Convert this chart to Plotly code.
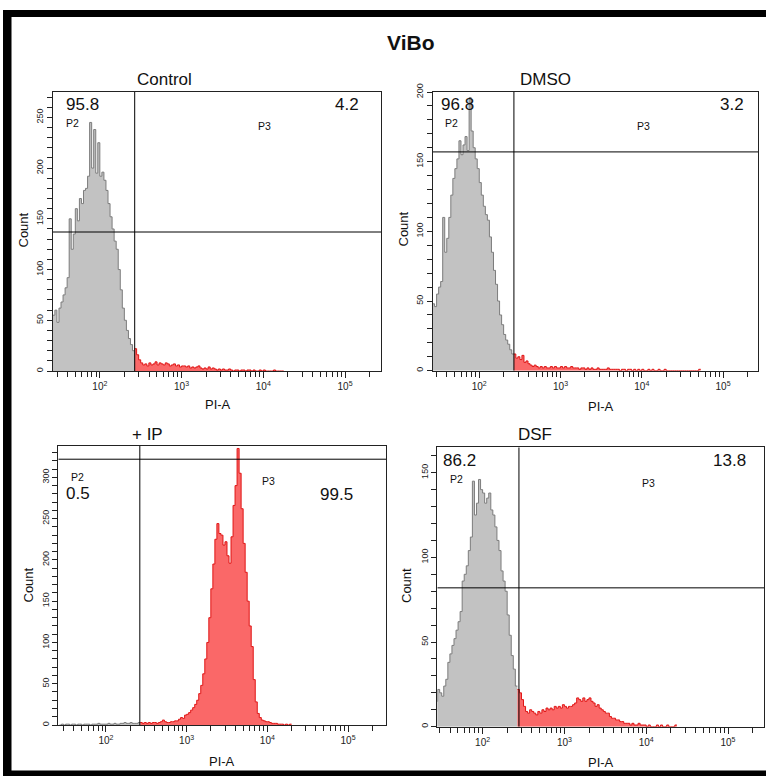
import math
import plotly.graph_objects as go

W, H = 766, 776

# ---------------- data ----------------
BIN_START_LOG = 1.425   # log10(PI-A) of first histogram bin edge
BIN_STEP_LOG = 0.025    # bin width in log10 units

panel_titles = ["Control", "DMSO", "+ IP", "DSF"]
p2_percent = ["95.8", "96.8", "0.5", "86.2"]
p3_percent = ["4.2", "3.2", "99.5", "13.8"]

control_counts = [
    55, 60, 48, 62, 68, 75, 82, 92, 150, 120, 135, 160, 148, 170, 165, 178, 180, 192, 245, 200,
    238, 195, 225, 192, 196, 188, 178, 165, 152, 140, 128, 120, 100, 80, 62, 50, 40, 32, 26, 20,
    22, 16, 11, 8, 6, 7, 5, 8, 6, 7, 9, 6, 8, 7, 6, 8, 7, 5, 6, 7, 5, 6, 4, 5,
    5, 4, 5, 3, 4, 3, 4, 5, 3, 2, 3, 2, 4, 2,
    3, 2, 1, 2, 1, 2, 1, 1, 2, 1, 0, 1, 1, 0, 1, 1, 0, 1,
    1, 0, 1, 0, 0, 1, 0, 1, 0, 0, 0, 0, 1, 0, 0, 0, 0]

dmso_counts = [
    48, 46, 55, 60, 64, 110, 85, 95, 110, 126, 138, 145, 152, 165, 155, 162, 168, 158, 196, 172,
    160, 152, 145, 135, 126, 118, 112, 108, 96, 85, 72, 62, 50, 40, 33, 26, 22, 19, 15, 12,
    12, 9, 10, 8, 11, 6, 7, 5, 4, 3, 4, 3, 2, 3, 2, 3, 2, 2, 3, 2, 3, 2, 2, 3,
    2, 3, 2, 2, 3, 2, 2, 2, 1, 2, 2, 1, 2, 1, 2, 1, 1, 2, 1, 1, 1, 1, 2, 1, 1, 1, 1,
    1, 0, 1, 1, 0, 1, 1, 0, 1, 0, 1, 0, 1, 0, 0, 1, 0, 1, 0, 0, 1, 0, 0,
    1, 0, 0, 0, 0, 0, 0, 0, 0, 0, 0, 0, 0, 0, 0, 0, 0, 1]

ip_counts = [
    0, 1, 0, 1, 1, 0, 1, 1, 0, 1, 1, 0, 1, 1, 1, 0, 1, 1, 1, 2,
    1, 1, 1, 1, 2, 1, 1, 2, 1, 1, 2, 2, 3, 2, 2, 3, 2, 2, 2, 3,
    3, 2, 3, 2, 3, 2, 3, 3, 2, 3, 4, 6, 4, 3, 3, 4, 4, 5, 5, 7,
    9, 8, 12, 13, 15, 18, 21, 25, 30, 38, 48, 62, 80, 100, 130, 165, 195, 225, 244, 232,
    230, 218, 222, 205, 196, 228, 266, 290, 335, 305, 262, 220, 185, 150, 120, 95, 55, 28, 14, 9,
    6, 5, 4, 4, 3, 2, 2, 2, 1, 1, 1, 0, 1, 0, 1]

dsf_counts = [
    15, 22, 20, 18, 24, 28, 38, 43, 48, 52, 57, 62, 68, 86, 90, 95, 104, 112, 145, 125,
    132, 146, 140, 138, 132, 135, 138, 128, 125, 118, 110, 104, 92, 86, 80, 66, 54, 42, 34, 24,
    22, 20, 16, 12, 9, 8, 10, 9, 8, 7, 9, 8, 10, 9, 11, 10, 11, 10, 12, 11,
    12, 11, 13, 12, 11, 12, 12, 13, 14, 17, 16, 15, 17, 15, 16, 17, 15, 14, 12, 13,
    11, 10, 9, 8, 8, 6, 5, 5, 4, 4, 3, 3, 2, 2, 2, 1, 2, 1, 1, 2,
    1, 1, 1, 0, 1, 0, 0, 0, 1, 0, 1, 0, 0, 1, 0, 0, 0, 1]

panel_counts = [control_counts, dmso_counts, ip_counts, dsf_counts]
gate_bin = [40, 40, 40, 40]            # first bin index in P3
gate_pi = [267, 267, 263, 278]         # vertical gate position (PI-A)
gate_count = [137, 157, 322, 82]       # horizontal gate line (Count)
y_max = [275, 200, 338, 165]
x_range_log = [[1.427, 5.44], [1.427, 5.43], [1.41, 5.47], [1.446, 5.44]]

x_major = [100, 1000, 10000, 100000]
x_major_text = ["10<sup>2</sup>", "10<sup>3</sup>", "10<sup>4</sup>", "10<sup>5</sup>"]

# ---------------- layout geometry (pixels) ----------------
boxes = [  # x0, x1, ytop, ybottom
    (53, 381, 92, 371),
    (432.7, 758, 92, 370.7),
    (58.3, 386, 446, 725),
    (437.3, 764, 447.3, 726.7),
]
title_pos = [(164, 79.5), (545, 79.5), (147.5, 434), (535, 434.5)]
p2_num_pos = [(82.5, 104.5), (457.5, 104.5), (78, 494), (459.5, 460.5)]
p3_num_pos = [(347, 104.5), (732, 104.5), (336.5, 495), (729.5, 460.5)]
p2_lab_pos = [(72.5, 122.5), (451.5, 122.5), (77.5, 477), (456.5, 478.5)]
p3_lab_pos = [(264.5, 126.5), (643.5, 126.5), (268.5, 481), (648.5, 483)]
count_pos = [(22.5, 230), (402.5, 229), (27.5, 585), (406, 586)]
pia_pos = [(218, 404), (601, 406), (222.5, 761), (601, 762.5)]


def fx(p):
    return p / W


def fy(p):
    return 1 - p / H


FONT = "Liberation Sans, Arial, sans-serif"
GRAY_LINE = "#7c7c7c"
GRAY_FILL = "#c2c2c2"
RED_LINE = "#e01515"
RED_FILL = "#fa6868"
AX = "#222222"

fig = go.Figure()
annotations = []

x_minor = [k * 10 ** d for d in range(1, 6) for k in range(2, 10)]


def ann(text, pos, size, angle=0, bold=False):
    annotations.append(dict(text=f"<b>{text}</b>" if bold else text, x=fx(pos[0]), y=fy(pos[1]),
                            xref="paper", yref="paper", showarrow=False, xanchor="center",
                            yanchor="middle", textangle=angle,
                            font=dict(family=FONT, size=size, color="#111")))


for p in range(4):
    xa = "x" if p == 0 else f"x{p + 1}"
    ya = "y" if p == 0 else f"y{p + 1}"
    counts = panel_counts[p]
    g = gate_bin[p]
    edges = [10 ** (BIN_START_LOG + BIN_STEP_LOG * i) for i in range(len(counts) + 1)]

    # gray part (P2)
    gx = edges[:g + 1]
    gy = counts[:g] + [counts[g - 1]]
    fig.add_trace(go.Scatter(x=gx, y=gy, mode="lines", line=dict(color=GRAY_LINE, width=1, shape="hv"),
                             fill="tozeroy", fillcolor=GRAY_FILL, xaxis=xa, yaxis=ya,
                             showlegend=False, hoverinfo="skip"))
    # red part (P3)
    rx = edges[g:]
    ry = counts[g:] + [counts[-1]]
    fig.add_trace(go.Scatter(x=rx, y=ry, mode="lines", line=dict(color=RED_LINE, width=1, shape="hv"),
                             fill="tozeroy", fillcolor=RED_FILL, xaxis=xa, yaxis=ya,
                             showlegend=False, hoverinfo="skip"))
    # gate lines
    lo, hi = x_range_log[p]
    fig.add_trace(go.Scatter(x=[gate_pi[p], gate_pi[p]], y=[0, y_max[p]], mode="lines",
                             line=dict(color="black", width=1), xaxis=xa, yaxis=ya,
                             showlegend=False, hoverinfo="skip"))
    fig.add_trace(go.Scatter(x=[10 ** lo, 10 ** hi], y=[gate_count[p], gate_count[p]], mode="lines",
                             line=dict(color="black", width=1), xaxis=xa, yaxis=ya,
                             showlegend=False, hoverinfo="skip"))

    x0, x1, yt, yb = boxes[p]
    xmaj = [v for v in x_major if lo <= math.log10(v) <= hi]
    xmaj_text = [x_major_text[x_major.index(v)] for v in xmaj]
    xmin = [v for v in x_minor if lo <= math.log10(v) <= hi]

    fig.layout[("xaxis" if p == 0 else f"xaxis{p + 1}")] = dict(
        type="log", range=[lo, hi], domain=[fx(x0), fx(x1)], anchor=ya, automargin=False,
        showgrid=False, zeroline=False, showline=True, linecolor=AX, linewidth=1, mirror=True,
        ticks="outside", ticklen=6, tickcolor=AX, tickmode="array", tickvals=xmaj, ticktext=xmaj_text,
        tickfont=dict(family=FONT, size=10, color="#222"),
        minor=dict(tickmode="array", tickvals=xmin, ticks="outside", ticklen=5, tickcolor=AX, showgrid=False))
    fig.layout[("yaxis" if p == 0 else f"yaxis{p + 1}")] = dict(
        range=[0, y_max[p]], domain=[fy(yb), fy(yt)], anchor=xa, automargin=False,
        showgrid=False, zeroline=False, showline=True, linecolor=AX, linewidth=1, mirror=True,
        ticks="outside", ticklen=5, tickcolor=AX, tickmode="linear", tick0=0, dtick=50,
        tickangle=-90, tickfont=dict(family=FONT, size=9, color="#222"),
        minor=dict(tickmode="linear", tick0=0, dtick=10, ticks="outside", ticklen=5, tickcolor=AX,
                   showgrid=False))

    ann(panel_titles[p], title_pos[p], 17)
    ann(p2_percent[p], p2_num_pos[p], 17)
    ann(p3_percent[p], p3_num_pos[p], 17)
    ann("P2", p2_lab_pos[p], 10.5)
    ann("P3", p3_lab_pos[p], 10.5)
    ann("Count", count_pos[p], 13, angle=-90)
    ann("PI-A", pia_pos[p], 13)

ann("ViBo", (411, 42.5), 21, bold=True)

shapes = [
    dict(type="rect", xref="paper", yref="paper", x0=fx(3), x1=fx(11.5), y0=fy(776), y1=fy(10),
         fillcolor="black", line=dict(width=0), layer="above"),
    dict(type="rect", xref="paper", yref="paper", x0=fx(3), x1=fx(766), y0=fy(17), y1=fy(10),
         fillcolor="black", line=dict(width=0), layer="above"),
    dict(type="rect", xref="paper", yref="paper", x0=fx(3), x1=fx(766), y0=fy(776), y1=fy(770.5),
         fillcolor="black", line=dict(width=0), layer="above"),
]

fig.update_layout(width=W, height=H, margin=dict(l=0, r=0, t=0, b=0, autoexpand=False),
                  paper_bgcolor="white", plot_bgcolor="white",
                  annotations=annotations, shapes=shapes, showlegend=False)

fig.write_html("out.html")
